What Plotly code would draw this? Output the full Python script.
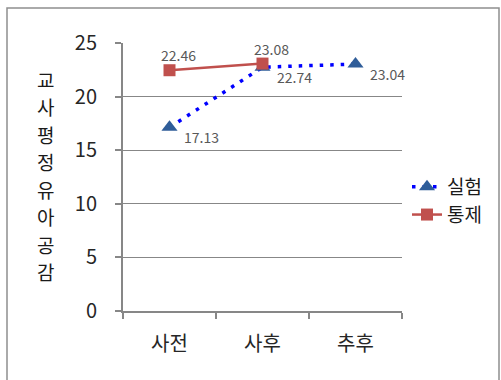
import plotly.graph_objects as go

# Measurement occasions and group scores
categories = ["사전", "사후", "추후"]
exp_values = [17.13, 22.74, 23.04]      # 실험 group
ctrl_categories = ["사전", "사후"]
ctrl_values = [22.46, 23.08]             # 통제 group
y_ticks = [0, 5, 10, 15, 20, 25]
y_title = "교사평정유아공감"

FONT = "Noto Sans CJK KR"
GRID = "#878787"
LABEL_GRAY = "#595959"

fig = go.Figure()

fig.add_trace(go.Scatter(
    x=categories, y=exp_values, name="실험", mode="lines+markers",
    line=dict(color="#0000FF", width=3.5, dash="3.5px,7px"),
    marker=dict(symbol="triangle-up", size=14, color="#2F5D99"),
))
fig.add_trace(go.Scatter(
    x=ctrl_categories, y=ctrl_values, name="통제", mode="lines+markers",
    line=dict(color="#C0504D", width=2.5),
    marker=dict(symbol="square", size=12, color="#C0504D"),
))

# Value labels
for c, v in zip(categories, exp_values):
    fig.add_annotation(x=c, y=v, text=f"{v:.2f}", showarrow=False,
                       xanchor="left", yanchor="middle", xshift=12, yshift=-10,
                       font=dict(family=FONT, size=14, color=LABEL_GRAY))
for c, v in zip(ctrl_categories, ctrl_values):
    fig.add_annotation(x=c, y=v, text=f"{v:.2f}", showarrow=False,
                       xanchor="center", yanchor="middle", xshift=9, yshift=15,
                       font=dict(family=FONT, size=14, color=LABEL_GRAY))

# Vertical axis title, one character per row
row_step = 27.5
first_row_px = 79
for i, ch in enumerate(y_title):
    py = first_row_px + i * row_step
    fig.add_annotation(xref="paper", yref="paper", x=(45 - 123) / 279, y=(311 - py) / 268,
                       text=ch, showarrow=False, xanchor="center", yanchor="middle",
                       font=dict(family=FONT, size=19, color="#1a1a1a"))

# Outer frame
fig.add_shape(type="rect", xref="paper", yref="paper",
              x0=(7 - 123) / 279, x1=(499 - 123) / 279,
              y0=(311 - 395) / 268, y1=(311 - 8) / 268,
              line=dict(color="#8f8f8f", width=1.5), layer="below")

fig.update_xaxes(
    type="category", range=[-0.5, 2.5], tickson="boundaries",
    showline=True, linecolor=GRID, linewidth=2,
    ticks="outside", ticklen=6, tickcolor=GRID, tickwidth=2,
    showgrid=False, ticklabelstandoff=14,
    tickfont=dict(family=FONT, size=20, color="#262626"),
)
fig.update_yaxes(
    range=[0, 25], tickvals=y_ticks,
    showline=True, linecolor=GRID, linewidth=2,
    ticks="outside", ticklen=6, tickcolor=GRID, tickwidth=1.5,
    showgrid=True, gridcolor=GRID, gridwidth=1.3, zeroline=False,
    ticklabelstandoff=14,
    tickfont=dict(family=FONT, size=20, color="#262626"),
)

fig.update_layout(
    width=501, height=380,
    margin=dict(l=123, r=99, t=43, b=69),
    paper_bgcolor="white", plot_bgcolor="white",
    showlegend=True,
    legend=dict(x=(407 - 123) / 279, y=(311 - 168) / 268, xanchor="left", yanchor="top",
                font=dict(family=FONT, size=19, color="#1a1a1a"),
                bgcolor="rgba(0,0,0,0)", tracegroupgap=0),
)

fig.write_html("out.html")
